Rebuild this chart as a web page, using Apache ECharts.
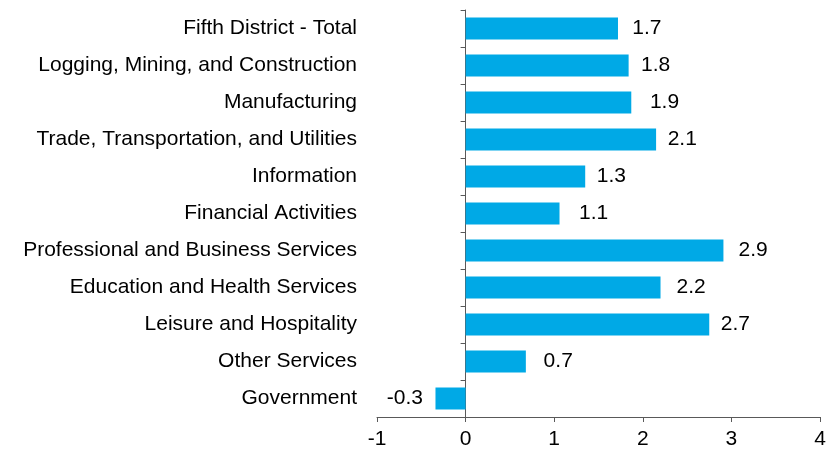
<!DOCTYPE html>
<html>
<head>
<meta charset="utf-8">
<script src="https://cdn.jsdelivr.net/npm/echarts@6/dist/echarts.min.js"></script>
<style>html,body{margin:0;padding:0;background:#fff;}#c{width:839px;height:453px;}</style>
</head>
<body>
<div id="c"></div>
<script>
var categories = ["Fifth District - Total","Logging, Mining, and Construction","Manufacturing","Trade, Transportation, and Utilities","Information","Financial Activities","Professional and Business Services","Education and Health Services","Leisure and Hospitality","Other Services","Government"];
// bar lengths
var values = [1.72, 1.84, 1.87, 2.15, 1.35, 1.06, 2.91, 2.2, 2.75, 0.68, -0.34];
// values printed beside the bars
var shown = [1.7, 1.8, 1.9, 2.1, 1.3, 1.1, 2.9, 2.2, 2.7, 0.7, -0.3];
var xTicks = {min: -1, max: 4, interval: 1};

var chart = echarts.init(document.getElementById('c'));
var font = 'Liberation Sans, Arial, sans-serif';
chart.setOption({
  animation: false,
  grid: {left: 377, right: 19, top: 10, bottom: 36, containLabel: false},
  xAxis: {
    type: 'value', min: xTicks.min, max: xTicks.max, interval: xTicks.interval,
    splitLine: {show: false},
    axisLine: {show: true, onZero: false, lineStyle: {color: '#595959', width: 1}},
    axisTick: {show: true, length: 5, lineStyle: {color: '#595959'}},
    axisLabel: {color: '#000', fontSize: 21, fontFamily: font, margin: 12}
  },
  yAxis: [{
    type: 'category', data: categories, inverse: true, position: 'left',
    axisLine: {show: false, onZero: false},
    axisTick: {show: false},
    axisLabel: {color: '#000', fontSize: 21, fontFamily: font, margin: 20}
  }, {
    type: 'category', data: categories, inverse: true, position: 'left',
    axisLine: {show: true, onZero: true, lineStyle: {color: '#595959', width: 1}},
    axisTick: {show: true, length: 5, lineStyle: {color: '#595959'}},
    axisLabel: {show: false}
  }],
  series: [{
    type: 'bar', yAxisIndex: 0, barWidth: 22, z: 2,
    data: values,
    itemStyle: {color: '#00A9E6'},
    label: {show: false}
  }, {
    type: 'bar', yAxisIndex: 0, barWidth: 22, barGap: '-100%', z: 1,
    data: shown.map(function (v) {
      return {value: v, label: {position: v < 0 ? 'left' : 'right'}};
    }),
    itemStyle: {color: 'rgba(0,0,0,0)'},
    label: {show: true, distance: 16, color: '#000', fontSize: 21, fontFamily: font,
      formatter: function (p) { return p.value.toFixed(1); }}
  }]
});
</script>
</body>
</html>
